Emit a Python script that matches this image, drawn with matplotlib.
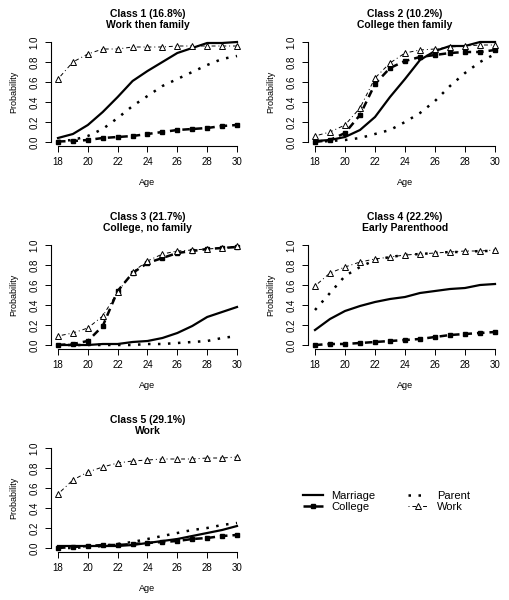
import matplotlib.pyplot as plt
import numpy as np

plt.rcParams['font.family'] = ['Liberation Sans', 'DejaVu Sans']

ages = np.arange(18, 31)

titles = ["Class 1 (16.8%)\nWork then family",
          "Class 2 (10.2%)\nCollege then family",
          "Class 3 (21.7%)\nCollege, no family",
          "Class 4 (22.2%)\nEarly Parenthood",
          "Class 5 (29.1%)\nWork"]

marriage = [
    [0.04, 0.08, 0.17, 0.30, 0.45, 0.61, 0.71, 0.80, 0.89, 0.94, 0.99, 0.99, 1.00],
    [0.01, 0.02, 0.05, 0.12, 0.25, 0.45, 0.63, 0.82, 0.91, 0.96, 0.96, 1.00, 1.00],
    [0.00, 0.00, 0.00, 0.01, 0.01, 0.03, 0.04, 0.07, 0.12, 0.19, 0.28, 0.33, 0.38],
    [0.15, 0.26, 0.34, 0.39, 0.43, 0.46, 0.48, 0.52, 0.54, 0.56, 0.57, 0.60, 0.61],
    [0.02, 0.02, 0.02, 0.02, 0.02, 0.03, 0.05, 0.07, 0.09, 0.12, 0.15, 0.18, 0.22],
]
parent = [
    [0.01, 0.02, 0.06, 0.13, 0.24, 0.36, 0.46, 0.56, 0.63, 0.70, 0.77, 0.83, 0.86],
    [0.00, 0.01, 0.02, 0.04, 0.08, 0.12, 0.20, 0.29, 0.41, 0.56, 0.69, 0.80, 0.88],
    [0.00, 0.00, 0.00, 0.00, 0.00, 0.00, 0.01, 0.01, 0.02, 0.03, 0.04, 0.07, 0.09],
    [0.35, 0.52, 0.69, 0.78, 0.85, 0.88, 0.90, 0.91, 0.92, 0.93, 0.93, 0.94, 0.94],
    [0.00, 0.00, 0.01, 0.02, 0.04, 0.06, 0.09, 0.12, 0.15, 0.18, 0.20, 0.23, 0.25],
]
college = [
    [0.005, 0.01, 0.02, 0.04, 0.05, 0.06, 0.08, 0.10, 0.12, 0.13, 0.14, 0.16, 0.17],
    [0.00, 0.02, 0.09, 0.27, 0.58, 0.74, 0.81, 0.85, 0.87, 0.89, 0.90, 0.90, 0.92],
    [0.00, 0.01, 0.04, 0.19, 0.54, 0.72, 0.82, 0.87, 0.92, 0.94, 0.96, 0.97, 0.98],
    [0.00, 0.01, 0.01, 0.02, 0.03, 0.04, 0.05, 0.06, 0.08, 0.10, 0.11, 0.12, 0.13],
    [0.00, 0.01, 0.02, 0.03, 0.03, 0.04, 0.05, 0.06, 0.07, 0.09, 0.10, 0.12, 0.13],
]
work = [
    [0.63, 0.80, 0.88, 0.93, 0.93, 0.95, 0.95, 0.95, 0.96, 0.96, 0.96, 0.96, 0.96],
    [0.06, 0.10, 0.17, 0.34, 0.64, 0.79, 0.89, 0.92, 0.93, 0.95, 0.96, 0.97, 0.97],
    [0.09, 0.12, 0.17, 0.29, 0.53, 0.73, 0.84, 0.91, 0.94, 0.95, 0.96, 0.97, 0.99],
    [0.59, 0.72, 0.78, 0.83, 0.86, 0.88, 0.90, 0.91, 0.92, 0.93, 0.94, 0.94, 0.95],
    [0.54, 0.68, 0.76, 0.81, 0.85, 0.87, 0.88, 0.89, 0.89, 0.89, 0.90, 0.90, 0.91],
]

W, H = 510, 600
fig = plt.figure(figsize=(W / 100, H / 100), dpi=100)

# pixel positions of the data range (x=18..30, y=0..1) for each panel
cols = [(58, 237), (315, 495)]
rows = [(42, 142), (245, 345), (448, 548)]
spots = [(0, 0), (1, 0), (0, 1), (1, 1), (0, 2)]

st = dict(
    marriage=dict(color='black', lw=1.6, ls='-'),
    parent=dict(color='black', lw=1.8, ls=(0, (1, 3))),
    college=dict(color='black', lw=1.8, ls=(0, (3, 2)), marker='s', ms=3.5),
    work=dict(color='black', lw=0.7, ls=(0, (1, 3, 4, 3)), marker='^', ms=4.5,
              mfc='white', mew=0.7),
)

for i in range(5):
    c, r = spots[i]
    x0, x1 = cols[c]
    ytop, ybot = rows[r]
    dx = (x1 - x0) * 0.04
    dy = (ybot - ytop) * 0.04
    left = (x0 - dx) / W
    width = (x1 - x0 + 2 * dx) / W
    bottom = 1 - (ybot + dy) / H
    height = (ybot - ytop + 2 * dy) / H
    ax = fig.add_axes([left, bottom, width, height])
    ax.plot(ages, marriage[i], **st['marriage'])
    ax.plot(ages, parent[i], **st['parent'])
    ax.plot(ages, college[i], **st['college'])
    ax.plot(ages, work[i], **st['work'])
    ax.set_xlim(17.52, 30.48)
    ax.set_ylim(-0.04, 1.04)
    for s in ['top', 'right']:
        ax.spines[s].set_visible(False)
    ax.spines['left'].set_bounds(0, 1)
    ax.spines['bottom'].set_bounds(18, 30)
    ax.set_xticks(range(18, 31, 2))
    ax.set_yticks(np.arange(0, 1.01, 0.2))
    ax.set_yticklabels(['0.0', '0.2', '0.4', '0.6', '0.8', '1.0'], rotation=90, va='center')
    ax.tick_params(labelsize=7, length=4, width=0.7, direction='out', pad=4)
    ax.set_xlabel('Age', fontsize=6.5, labelpad=8)
    ax.set_ylabel('Probability', fontsize=6.5, labelpad=8)
    ax.set_title(titles[i], fontsize=7.5, fontweight='bold', pad=7, linespacing=1.15)

# legend
h = [plt.Line2D([], [], **st['marriage']),
     plt.Line2D([], [], **st['college']),
     plt.Line2D([], [], **st['parent']),
     plt.Line2D([], [], **st['work'])]
fig.legend(h, ['Marriage', 'College', 'Parent', 'Work'], ncol=2, frameon=False,
           loc='upper left', bbox_to_anchor=(297 / W, 1 - 485 / H), borderpad=0,
           fontsize=8, handlelength=1.8, columnspacing=2.9, numpoints=1,
           labelspacing=0.1, handletextpad=0.8)

fig.savefig('out.png', dpi=100)
